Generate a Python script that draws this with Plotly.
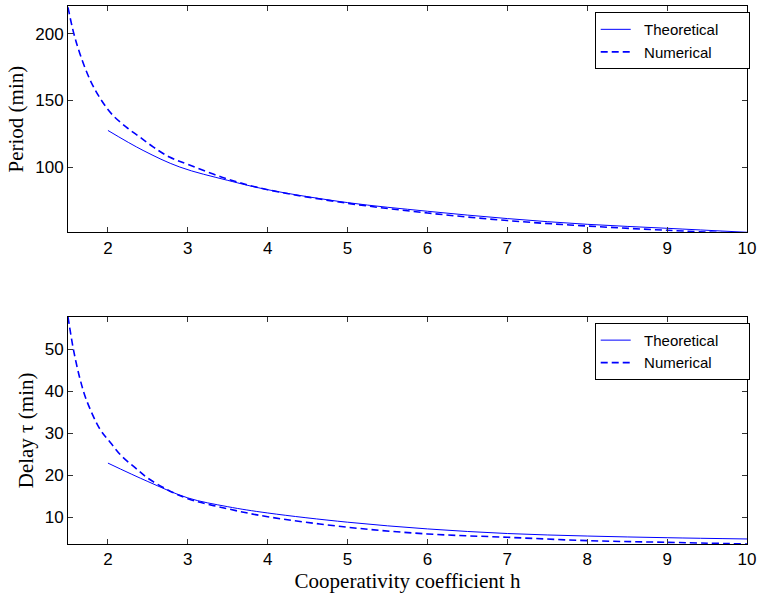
import plotly.graph_objects as go

# ---- data ----
h_theo_period = [2, 2.44, 2.9, 3.5, 4, 5, 6, 7, 8, 9, 10]
period_theo = [127.5, 112.5, 100, 90, 83, 73.3, 66.8, 61.3, 57, 54, 51]

h_num_period = [1.5, 1.57, 1.65, 1.78, 1.92, 2.06, 2.23, 2.4, 2.57, 2.77, 3, 3.5, 4, 5, 6, 7, 8, 9, 10]
period_num = [220, 201, 185, 165, 150, 139, 130, 122.5, 115, 107.5, 102, 91, 83, 72.8, 65.5, 59.8, 55.7, 52.5, 50]

h_theo_delay = [2, 2.5, 3, 3.5, 4, 5, 6, 7, 8, 9, 10]
delay_theo = [22.9, 18.5, 14.6, 12.5, 11.0, 8.8, 7.2, 6.1, 5.5, 5.1, 4.8]

h_num_delay = [1.5, 1.57, 1.65, 1.73, 1.9, 2.03, 2.17, 2.34, 2.5, 2.75, 3, 3.5, 4, 5, 6, 7, 8, 9, 10]
delay_num = [57.8, 49.8, 43.0, 38.0, 31.0, 27.8, 24.6, 21.8, 19.3, 16.5, 14.4, 12.0, 10.1, 7.6, 6.0, 5.2, 4.4, 4.0, 3.6]

x_ticks = [2, 3, 4, 5, 6, 7, 8, 9, 10]
period_ticks = [100, 150, 200]
delay_ticks = [10, 20, 30, 40, 50]
series_names = ["Theoretical", "Numerical"]

BLUE = "#0000ff"
SANS = "Liberation Sans, Arial, sans-serif"
SERIF = "Liberation Serif, Times New Roman, serif"
LEAD = "\u00a0" * 2   # spacing like the reference legend
TRAIL = "\u00a0" * 6


def label(name):
    return LEAD + name + TRAIL


fig = go.Figure()
fig.add_trace(go.Scatter(x=h_theo_period, y=period_theo, mode="lines", name=label(series_names[0]),
                         line=dict(color=BLUE, width=1, shape="spline"), xaxis="x", yaxis="y", legend="legend"))
fig.add_trace(go.Scatter(x=h_num_period, y=period_num, mode="lines", name=label(series_names[1]),
                         line=dict(color=BLUE, width=1.6, dash="7px,4px", shape="spline"), xaxis="x", yaxis="y", legend="legend"))
fig.add_trace(go.Scatter(x=h_theo_delay, y=delay_theo, mode="lines", name=label(series_names[0]),
                         line=dict(color=BLUE, width=1, shape="spline"), xaxis="x2", yaxis="y2", legend="legend2"))
fig.add_trace(go.Scatter(x=h_num_delay, y=delay_num, mode="lines", name=label(series_names[1]),
                         line=dict(color=BLUE, width=1.6, dash="7px,4px", shape="spline"), xaxis="x2", yaxis="y2", legend="legend2"))

axis_common = dict(showgrid=False, zeroline=False, showline=True, linecolor="black", linewidth=1,
                   mirror="ticks", ticks="inside", ticklen=5, tickcolor="#333333",
                   tickfont=dict(family=SANS, size=17, color="black"))

legend_common = dict(xanchor="right", yanchor="top", bgcolor="white", bordercolor="black", borderwidth=1,
                     font=dict(family=SANS, size=15, color="black"))

fig.update_layout(
    width=761, height=597,
    margin=dict(l=68, r=10, t=5, b=53),
    paper_bgcolor="white", plot_bgcolor="white",
    xaxis=dict(domain=[0, 1], range=[1.5, 10], tickvals=x_ticks, anchor="y", **axis_common),
    yaxis=dict(domain=[0.5794, 1], range=[51, 221], tickvals=period_ticks, anchor="x",
               title=dict(text="Period (min)", font=dict(family=SERIF, size=21, color="black"), standoff=5),
               **axis_common),
    xaxis2=dict(domain=[0, 1], range=[1.5, 10], tickvals=x_ticks, anchor="y2",
                title=dict(text="Cooperativity coefficient h", font=dict(family=SERIF, size=21, color="black"), standoff=2),
                **axis_common),
    yaxis2=dict(domain=[0, 0.4223], range=[3.6, 57.8], tickvals=delay_ticks, anchor="x2",
                title=dict(text="Delay τ (min)", font=dict(family=SERIF, size=21, color="black"), standoff=5),
                **axis_common),
    legend=dict(x=1.004, y=0.9887, **legend_common),
    legend2=dict(x=1.004, y=0.411, **legend_common),
)

fig.write_html("out.html")
